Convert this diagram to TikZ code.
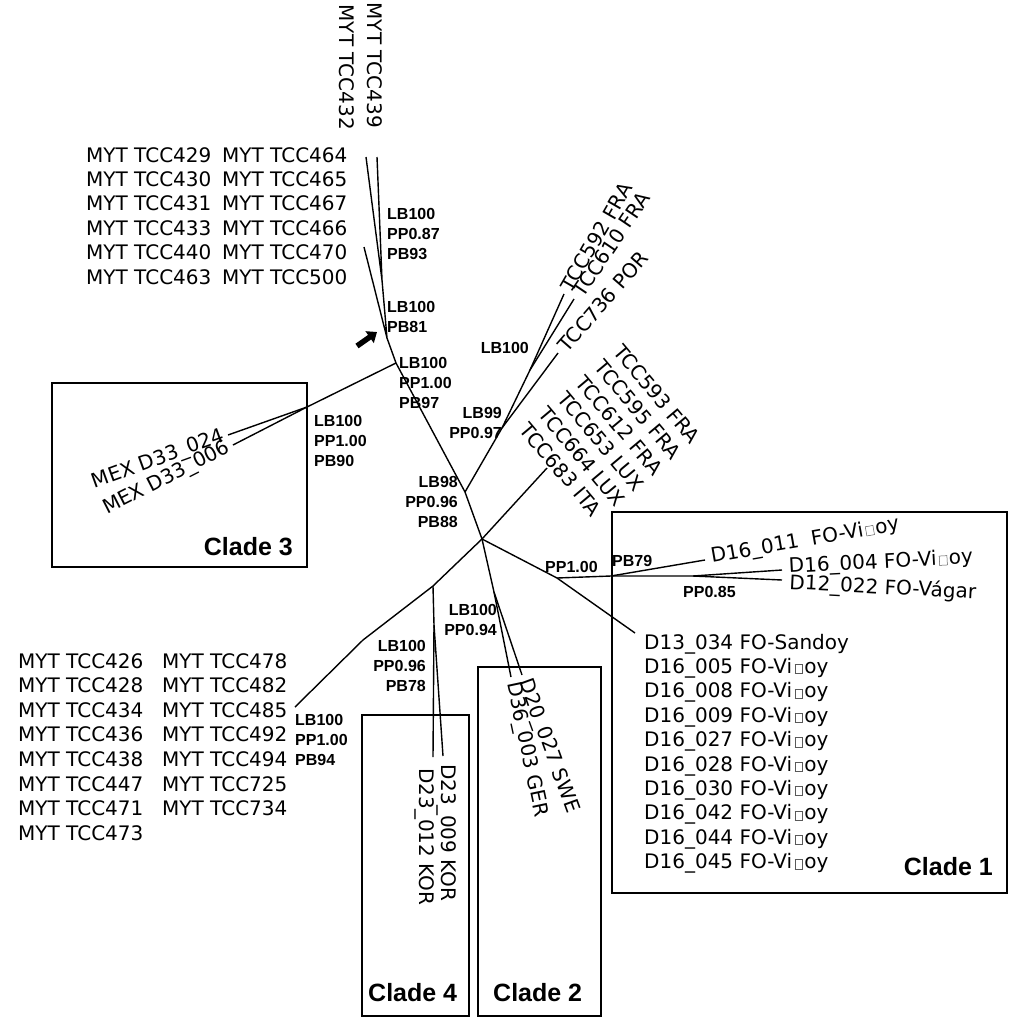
\documentclass[tikz,border=0pt]{standalone}
\usepackage{fontspec}
\setmainfont{DejaVu Sans}
\newfontfamily\suppfont{Liberation Sans}
\usetikzlibrary{arrows.meta}
\newcommand{\tofu}{\kern0.12em{\fboxsep=0pt\fboxrule=0.5pt\textcolor{black!65}{\fbox{\rule{0pt}{0.44em}\rule{0.36em}{0pt}}}}\kern0.08em}

\begin{document}
\begin{tikzpicture}[
    x=1pt, y=-1pt,
    branch/.style={line width=1.4pt, line join=round},
    cladebox/.style={draw, line width=1.6pt},
    tip/.style={font=\fontsize{20}{24.4}\selectfont, inner sep=0pt},
    supp/.style={font=\suppfont\bfseries\fontsize{16}{20.3}\selectfont, inner sep=0pt},
    cladelbl/.style={font=\suppfont\bfseries\fontsize{25}{30}\selectfont, inner sep=0pt},
    pointer/.style={line width=5.5pt, -{Triangle[length=9pt, width=14pt]}}
]
\useasboundingbox (0,0) rectangle (1012,1018);

% ---- Internal nodes ----
\coordinate (n2) at (382,280);
\coordinate (n1) at (387,338);
\coordinate (n3) at (396,363);
\coordinate (mex) at (307,407);
\coordinate (n4) at (465,492);
\coordinate (fa) at (502,428);
\coordinate (fb) at (530,370);
\coordinate (c) at (482,539);
\coordinate (f0) at (557,578);
\coordinate (f1) at (611,576);
\coordinate (f2) at (693,576);
\coordinate (s2) at (494,592);
\coordinate (c4) at (433,586);
\coordinate (s4) at (434,625);
\coordinate (kink) at (363,640);

% ---- Leaves ----
\coordinate (l439) at (377,157);
\coordinate (l432) at (366,157);
\coordinate (l470) at (364,247);
\coordinate (l024) at (228,435);
\coordinate (l006) at (233,445);
\coordinate (l592) at (564,294);
\coordinate (l610) at (574,299);
\coordinate (l736) at (558,353);
\coordinate (l683) at (547,468);
\coordinate (l011) at (705,560);
\coordinate (l004) at (782,570);
\coordinate (l022) at (782,580);
\coordinate (l034) at (635,633);
\coordinate (l027) at (522,675);
\coordinate (l003) at (511,677);
\coordinate (l009) at (443,756);
\coordinate (l012) at (433,757);
\coordinate (l485) at (295,707);

% ---- Clade boxes ----
\draw[cladebox] (52,383) rectangle (307,567);
\draw[cladebox] (612,512) rectangle (1007,893);
\draw[cladebox] (362,715) rectangle (469,1016);
\draw[cladebox] (478,667) rectangle (601,1016);

% ---- Branches ----
\draw[branch] (l432) -- (n2) -- (l439);
\draw[branch] (l470) -- (n1) -- (n2);
\draw[branch] (n1) -- (n3) -- (n4) -- (c);
\draw[branch] (n3) -- (mex) -- (l024);
\draw[branch] (mex) -- (l006);
\draw[branch] (n4) -- (fa) -- (fb) -- (l592);
\draw[branch] (fb) -- (l610);
\draw[branch] (fa) -- (l736);
\draw[branch] (c) -- (l683);
\draw[branch] (c) -- (f0) -- (l034);
\draw[branch] (f0) -- (f1) -- (f2) -- (l004);
\draw[branch] (f2) -- (l022);
\draw[branch] (f1) -- (l011);
\draw[branch] (c) -- (s2) -- (l027);
\draw[branch] (s2) -- (l003);
\draw[branch] (c) -- (c4) -- (kink) -- (l485);
\draw[branch] (c4) -- (s4) -- (l009);
\draw[branch] (s4) -- (l012);

% Pointer arrow
\coordinate (ptr) at (357,346);
\coordinate (ptrtip) at (377,332);
\draw[pointer] (ptr) -- (ptrtip);

% ---- Tip labels (block anchors sit on the last line) ----
\node[tip, rotate=-90, anchor=base east] (t439) at (367,128) {MYT TCC439};
\node[tip, rotate=-90, anchor=base east] (t432) at (339,130) {MYT TCC432};
\node[tip, align=left, anchor=base west] (myt1) at (86,284) {MYT TCC429\\MYT TCC430\\MYT TCC431\\MYT TCC433\\MYT TCC440\\MYT TCC463};
\node[tip, align=left, anchor=base west] (myt2) at (222,284) {MYT TCC464\\MYT TCC465\\MYT TCC467\\MYT TCC466\\MYT TCC470\\MYT TCC500};

\node[tip, rotate=20, anchor=east] (t024) at (224,436) {MEX D33\_024};
\node[tip, rotate=27, anchor=east] (t006) at (229,447) {MEX D33\_006};

\node[tip, rotate=60, anchor=west] (t592) at (566,290) {TCC592 FRA};
\node[tip, rotate=56, anchor=west] (t610) at (577,295) {TCC610 FRA};
\node[tip, rotate=49, anchor=west] (t736) at (562,349) {TCC736 POR};
\node[tip, rotate=-50, align=left, anchor=base west] (t593) at (518.5,430.4) {TCC593 FRA\\TCC595 FRA\\TCC612 FRA\\TCC653 LUX\\TCC664 LUX\\TCC683 ITA};

\node[tip, rotate=10, anchor=base west] (t011) at (712,563) {D16\_011\ \ FO-Vi\tofu oy};
\node[tip, rotate=3, anchor=base west] (t004) at (789,573) {D16\_004 FO-Vi\tofu oy};
\node[tip, rotate=-3, anchor=base west] (t022) at (789,589) {D12\_022 FO-Vágar};
\node[tip, align=left, anchor=base west] (faroe) at (644,868.6) {D13\_034 FO-Sandoy\\D16\_005 FO-Vi\tofu oy\\D16\_008 FO-Vi\tofu oy\\D16\_009 FO-Vi\tofu oy\\D16\_027 FO-Vi\tofu oy\\D16\_028 FO-Vi\tofu oy\\D16\_030 FO-Vi\tofu oy\\D16\_042 FO-Vi\tofu oy\\D16\_044 FO-Vi\tofu oy\\D16\_045 FO-Vi\tofu oy};

\node[tip, rotate=-70, anchor=west] (t027) at (524,680) {D20\_027 SWE};
\node[tip, rotate=-78, anchor=west] (t003) at (512,682) {D36\_003 GER};
\node[tip, rotate=-90, anchor=base west] (t009) at (441,764) {D23\_009 KOR};
\node[tip, rotate=-90, anchor=base west] (t012) at (419,768) {D23\_012 KOR};

\node[tip, align=left, anchor=base west, font=\fontsize{20}{24.6}\selectfont] (myt3) at (18,840.2) {MYT TCC426\\MYT TCC428\\MYT TCC434\\MYT TCC436\\MYT TCC438\\MYT TCC447\\MYT TCC471\\MYT TCC473};
\node[tip, align=left, anchor=base west, font=\fontsize{20}{24.6}\selectfont] (myt4) at (162,815.6) {MYT TCC478\\MYT TCC482\\MYT TCC485\\MYT TCC492\\MYT TCC494\\MYT TCC725\\MYT TCC734};

% ---- Support values ----
\node[supp, align=left, anchor=base west] (b2) at (387,259.6) {LB100\\PP0.87\\PB93};
\node[supp, align=left, anchor=base west] (b1) at (387,332.3) {LB100\\PB81};
\node[supp, align=left, anchor=base west] (b3) at (399,408.6) {LB100\\PP1.00\\PB97};
\node[supp, align=left, anchor=base west] (bmex) at (314,466.6) {LB100\\PP1.00\\PB90};
\node[supp, anchor=base east] (bfb) at (529,353) {LB100};
\node[supp, align=right, anchor=base east] (bfa) at (502,438.3) {LB99\\PP0.97};
\node[supp, align=right, anchor=base east] (b4) at (458,527.6) {LB98\\PP0.96\\PB88};
\node[supp, align=right, anchor=base east] (bs2) at (497,635.3) {LB100\\PP0.94};
\node[supp, align=right, anchor=base east] (bc4) at (426,691.6) {LB100\\PP0.96\\PB78};
\node[supp, align=left, anchor=base west] (b485) at (295,765.6) {LB100\\PP1.00\\PB94};
\node[supp, anchor=base west] (bf0) at (545,572) {PP1.00};
\node[supp, anchor=base west] (bf1) at (612,566) {PB79};
\node[supp, anchor=base west] (bf2) at (683,597) {PP0.85};

% ---- Clade labels ----
\node[cladelbl, anchor=base east] (cl3) at (293,555) {Clade 3};
\node[cladelbl, anchor=base east] (cl1) at (993,875) {Clade 1};
\node[cladelbl, anchor=base west] (cl4) at (368,1001) {Clade 4};
\node[cladelbl, anchor=base west] (cl2) at (493,1001) {Clade 2};

\end{tikzpicture}
\end{document}
